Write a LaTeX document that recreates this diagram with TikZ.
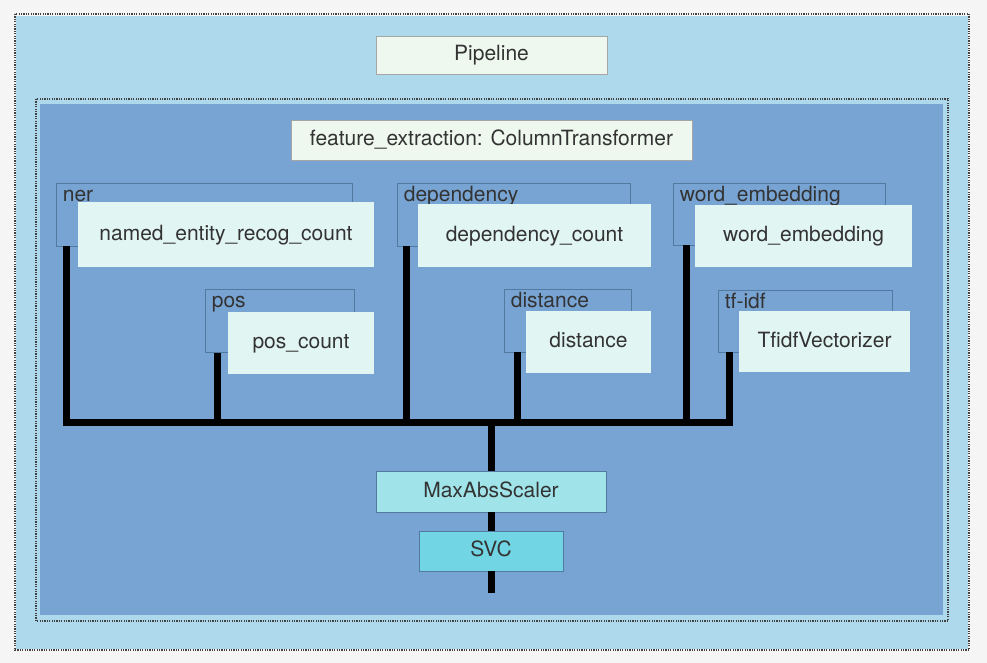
\documentclass[tikz,border=0pt]{standalone}
\usepackage{fontspec}
\setmainfont{TeX Gyre Heros}
\usetikzlibrary{calc}
\definecolor{pagebg}{HTML}{F5F5F5}
\definecolor{lightblue}{HTML}{AED8EC}
\definecolor{darkblue}{HTML}{78A4D4}
\definecolor{lblstroke}{HTML}{52799F}
\definecolor{innerfill}{HTML}{E1F5F2}
\definecolor{pipefill}{HTML}{EEF8EF}
\definecolor{masfill}{HTML}{A0E4E9}
\definecolor{svcfill}{HTML}{72D5E4}
\definecolor{txt}{HTML}{333333}
\tikzset{
  box/.style={rectangle, inner sep=0pt, font=\fontsize{21}{24}\selectfont, text=txt, text height=15pt, text depth=3.5pt},
  titlebox/.style={box, fill=pipefill, draw=gray!70, line width=0.8pt},
  lblbox/.style={rectangle, inner sep=0pt, fill=darkblue, draw=lblstroke, line width=0.7pt},
  lbltext/.style={inner sep=0pt, anchor=north west, font=\fontsize{21}{24}\selectfont, text=txt, text height=15pt, text depth=4.5pt},
  innerbox/.style={box, fill=innerfill},
  stepnode/.style={box, draw=lblstroke, line width=0.7pt},
  bus/.style={line width=7pt, black, line join=miter},
  dotline/.style={draw=black!75, line width=1.3pt, dash pattern=on 1.2pt off 1.2pt}
}
\begin{document}
\begin{tikzpicture}[x=1pt,y=-1pt]
\useasboundingbox (0,0) rectangle (987,663);
\fill[pagebg] (0,0) rectangle (987,663);
% outer pipeline container
\fill[lightblue] (16,16) rectangle (968,649);
\draw[dotline] (15,14) rectangle (969,650);
% inner container
\draw[dotline] (36,99) rectangle (948,621);
\fill[darkblue] (40,104) rectangle (943,615);

\node[titlebox, minimum width=231pt, minimum height=38pt] (pipe) at (491.5,55) {Pipeline};
\node[titlebox, minimum width=401pt, minimum height=40pt] (fe) at (491.5,140) {feature\_extraction: ColumnTransformer};

% label boxes
\node[lblbox, minimum width=296pt, minimum height=63pt] (nerlbl) at (204,214.5) {};
\node[lblbox, minimum width=149pt, minimum height=63pt] (poslbl) at (279.5,321) {};
\node[lblbox, minimum width=233pt, minimum height=63pt] (deplbl) at (513.5,214.5) {};
\node[lblbox, minimum width=127pt, minimum height=63pt] (distlbl) at (567.5,320.5) {};
\node[lblbox, minimum width=212pt, minimum height=62pt] (welbl) at (779,214) {};
\node[lblbox, minimum width=174pt, minimum height=62pt] (tflbl) at (805,321) {};

\node[lbltext] (nert) at ($(nerlbl.north west)+(7,3.5)$) {ner};
\node[lbltext] (post) at ($(poslbl.north west)+(7,3.5)$) {pos};
\node[lbltext] (dept) at ($(deplbl.north west)+(7,3.5)$) {dependency};
\node[lbltext] (distt) at ($(distlbl.north west)+(7,3.5)$) {distance};
\node[lbltext] (wet) at ($(welbl.north west)+(7,3.5)$) {word\_embedding};
\node[lbltext] (tft) at ($(tflbl.north west)+(7,3.5)$) {tf-idf};

% inner boxes
\node[innerbox, minimum width=296pt, minimum height=65pt] (nerbox) at (226,234.5) {named\_entity\_recog\_count};
\node[innerbox, minimum width=146pt, minimum height=62pt] (posbox) at (301,343) {pos\_count};
\node[innerbox, minimum width=233pt, minimum height=63pt] (depbox) at (534.5,235.5) {dependency\_count};
\node[innerbox, minimum width=125pt, minimum height=62pt] (distbox) at (588.5,342) {distance};
\node[innerbox, minimum width=217pt, minimum height=62pt] (webox) at (803.5,236) {word\_embedding};
\node[innerbox, minimum width=171pt, minimum height=61pt] (tfbox) at (824.5,341.5) {TfidfVectorizer};

% final steps
\node[stepnode, fill=masfill, minimum width=230pt, minimum height=41pt] (mas) at (491,491.5) {MaxAbsScaler};
\node[stepnode, fill=svcfill, minimum width=144pt, minimum height=40pt] (svc) at (491,551) {SVC};

% connectors
\coordinate (busy) at (0,422);
\coordinate (nerfoot) at ($(nerlbl.south west)+(11,0)$);
\coordinate (posfoot) at ($(poslbl.south west)+(13,0)$);
\coordinate (depfoot) at ($(deplbl.south west)+(10,0)$);
\coordinate (distfoot) at ($(distlbl.south west)+(14,0)$);
\coordinate (wefoot) at ($(welbl.south west)+(14,0)$);
\coordinate (tffoot) at ($(tflbl.south west)+(12,0)$);
\coordinate (outend) at ($(svc.south)+(0,22)$);

\draw[bus] (nerfoot) |- (tffoot |- busy) -- (tffoot);
\draw[bus] (posfoot) -- (posfoot |- busy);
\draw[bus] (depfoot) -- ($(depfoot |- busy)+(0,3)$);
\draw[bus] (distfoot) -- (distfoot |- busy);
\draw[bus] (wefoot) -- (wefoot |- busy);
\draw[bus] (mas.north |- busy) -- (mas.north);
\draw[bus] (mas.south) -- (svc.north);
\draw[bus] (svc.south) -- (outend);
\end{tikzpicture}
\end{document}
